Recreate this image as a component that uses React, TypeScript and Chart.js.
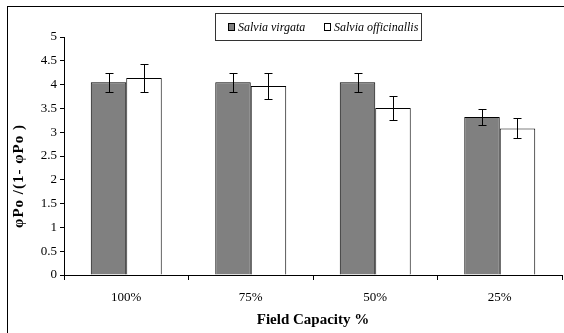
import React, { useEffect, useRef } from "react";
import { Chart, registerables } from "chart.js";

Chart.register(...registerables);

const categories = ["100%", "75%", "50%", "25%"];
const virgataLabel = "Salvia virgata";
const officinalisLabel = "Salvia officinallis";
const yTitle = "φPo /(1- φPo )";
const xTitle = "Field Capacity %";
const virgataValues = [4.05, 4.05, 4.05, 3.32];
const virgataErrors = [0.2, 0.2, 0.2, 0.17];
const officinalisValues = [4.14, 3.97, 3.51, 3.08];
const officinalisErrors = [0.3, 0.28, 0.25, 0.21];
const yTicks = [0, 0.5, 1, 1.5, 2, 2.5, 3, 3.5, 4, 4.5, 5];

const SERIF = "Liberation Serif";

const errorBarPlugin = {
  id: "errorBars",
  afterDatasetsDraw(chart: any) {
    const ctx = chart.ctx;
    const y = chart.scales.y;
    const errs = [virgataErrors, officinalisErrors];
    const vals = [virgataValues, officinalisValues];
    ctx.save();
    ctx.strokeStyle = "#000";
    ctx.lineWidth = 1;
    errs.forEach((err, di) => {
      const meta = chart.getDatasetMeta(di);
      meta.data.forEach((bar: any, i: number) => {
        const x = Math.round(bar.x) + 0.5;
        const top = Math.round(y.getPixelForValue(vals[di][i] + err[i])) + 0.5;
        const bot = Math.round(y.getPixelForValue(vals[di][i] - err[i])) + 0.5;
        ctx.beginPath();
        ctx.moveTo(x, top);
        ctx.lineTo(x, bot);
        ctx.moveTo(x - 4, top);
        ctx.lineTo(x + 4, top);
        ctx.moveTo(x - 4, bot);
        ctx.lineTo(x + 4, bot);
        ctx.stroke();
      });
    });
    ctx.restore();
  },
};

const framePlugin = {
  id: "frameAndLegend",
  afterDraw(chart: any) {
    const ctx = chart.ctx;
    ctx.save();
    ctx.strokeStyle = "#000";
    ctx.lineWidth = 1;
    ctx.strokeRect(7.5, 6.5, 600, 400);
    ctx.strokeStyle = "#333";
    ctx.strokeRect(215.5, 13.5, 206, 27);
    const items = [
      { label: virgataLabel, color: "#808080", x: 228 },
      { label: officinalisLabel, color: "#ffffff", x: 324 },
    ];
    ctx.font = `italic 12px "${SERIF}"`;
    ctx.textBaseline = "middle";
    items.forEach((it) => {
      ctx.fillStyle = it.color;
      ctx.fillRect(it.x + 0.5, 23.5, 6, 7);
      ctx.strokeStyle = "#000";
      ctx.strokeRect(it.x + 0.5, 23.5, 6, 7);
      ctx.fillStyle = "#000";
      ctx.fillText(it.label, it.x + 10, 27.5);
    });
    // y axis title
    ctx.translate(19, 176);
    ctx.rotate(-Math.PI / 2);
    ctx.font = `bold 15px "${SERIF}"`;
    (ctx as any).letterSpacing = "1px";
    ctx.textAlign = "center";
    ctx.textBaseline = "middle";
    ctx.fillStyle = "#000";
    ctx.fillText(yTitle, 0, 0);
    ctx.restore();
  },
};

export default function App() {
  const ref = useRef<HTMLCanvasElement | null>(null);
  useEffect(() => {
    if (!ref.current) return;
    const chart = new Chart(ref.current, {
      type: "bar",
      data: {
        labels: categories,
        datasets: [
          {
            label: virgataLabel,
            data: virgataValues,
            backgroundColor: "#808080",
            borderColor: "#000",
            borderWidth: 1,
            categoryPercentage: 0.57,
            barPercentage: 1,
          },
          {
            label: officinalisLabel,
            data: officinalisValues,
            backgroundColor: "#ffffff",
            borderColor: "#000",
            borderWidth: 1,
            categoryPercentage: 0.57,
            barPercentage: 1,
          },
        ],
      },
      options: {
        animation: false,
        responsive: false,
        devicePixelRatio: 1,
        layout: { padding: { left: 0, right: 2, top: 37, bottom: 0 } },
        plugins: {
          legend: { display: false },
          tooltip: { enabled: false },
          title: { display: false },
        },
        scales: {
          x: {
            grid: {
              drawOnChartArea: false,
              drawTicks: true,
              tickLength: 5,
              color: "#000",
              offset: true,
            },
            border: { color: "#000", width: 1 },
            ticks: {
              color: "#000",
              font: { family: SERIF, size: 13 },
              padding: 10,
            },
            title: {
              display: true,
              text: xTitle,
              color: "#000",
              font: { family: SERIF, size: 15, weight: "bold" },
              padding: { top: 0, bottom: 4 },
            },
            afterFit(scale: any) {
              scale.height = 58;
            },
          },
          y: {
            min: 0,
            max: 5,
            afterBuildTicks(scale: any) {
              scale.ticks = yTicks.map((v) => ({ value: v }));
            },
            grid: {
              drawOnChartArea: false,
              drawTicks: true,
              tickLength: 4,
              color: "#000",
            },
            border: { color: "#000", width: 1 },
            ticks: {
              color: "#000",
              font: { family: SERIF, size: 13 },
              padding: 3,
              callback: (v: any) => String(v),
            },
            afterFit(scale: any) {
              scale.width = 64;
            },
          },
        },
      },
      plugins: [errorBarPlugin, framePlugin],
    } as any);
    return () => chart.destroy();
  }, []);
  return (
    <div style={{ position: "fixed", left: 0, top: 0, width: 564, height: 333, background: "#fff" }}>
      <canvas ref={ref} width={564} height={333} style={{ width: 564, height: 333 }} />
    </div>
  );
}
